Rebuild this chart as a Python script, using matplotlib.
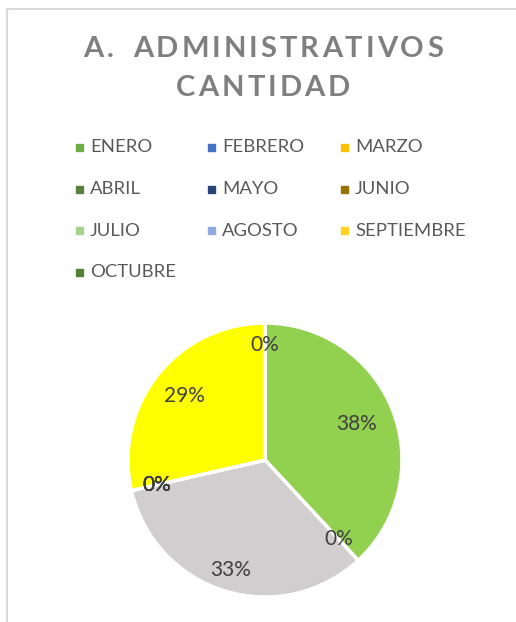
import numpy as np
import matplotlib
matplotlib.use("Agg")
import matplotlib.pyplot as plt
from matplotlib.patches import Rectangle
from matplotlib.lines import Line2D

W, H, DPI = 516, 622, 100

# data
meses = ["ENERO", "FEBRERO", "MARZO", "ABRIL", "MAYO", "JUNIO",
         "JULIO", "AGOSTO", "SEPTIEMBRE", "OCTUBRE"]
cantidad = [8, 0, 7, 0, 0, 0, 0, 0, 6, 0]
colores_leyenda = ["#70AD47", "#4472C4", "#FFC000", "#5B7F3C", "#264478",
                   "#997300", "#A9D18E", "#8FAADC", "#FFD320", "#548235"]
colores_pie = ["#92D050", "#4472C4", "#D0CECE", "#5B7F3C", "#264478",
               "#997300", "#A9D18E", "#8FAADC", "#FFFF00", "#548235"]
# distancia de cada etiqueta al centro (fraccion del radio)
dist_etiqueta = [0.72, 0.79, 0.84, 0.81, 0.81, 0.81, 0.81, 0.81, 0.75, 0.84]

FONT = "Lato"
plt.rcParams["font.family"] = [FONT, "DejaVu Sans"]

fig = plt.figure(figsize=(W / DPI, H / DPI), dpi=DPI)
fig.patch.set_facecolor("white")

# borde del area del grafico (solo se ven izquierda y arriba)
fig.add_artist(Line2D([7 / W, 7 / W], [0, 1 - 9 / H], color="#D9D9D9", lw=1.5))
fig.add_artist(Line2D([7 / W, 1], [1 - 9 / H, 1 - 9 / H], color="#D9D9D9", lw=1.5))

# titulo con espaciado entre letras
renderer = fig.canvas.get_renderer()


def texto_espaciado(s, cx, cy, size, tracking):
    parts = []
    for ch in s:
        t = fig.text(0, 0, ch, fontsize=size, fontweight="bold", color="#7F7F7F",
                     va="center", ha="left", transform=None)
        w = t.get_window_extent(renderer).width if ch != " " else size * 0.25
        parts.append((t, w))
    total = sum(w for _, w in parts) + tracking * (len(parts) - 1)
    x = cx - total / 2
    for t, w in parts:
        t.set_position((x, H - cy))
        x += w + tracking


texto_espaciado("A.  ADMINISTRATIVOS", 263, 49, 21, 3.0)
texto_espaciado("CANTIDAD", 263, 88, 21, 3.0)

# leyenda manual 3 columnas
col_x = [76, 208, 341]
row_y = [147, 189, 231, 272]
for i, (m, c) in enumerate(zip(meses, colores_leyenda)):
    r, k = divmod(i, 3)
    x, y = col_x[k], row_y[r]
    fig.add_artist(Rectangle(((x) / W, (H - y - 3.5) / H), 7 / W, 7 / H,
                             transform=fig.transFigure, color=c))
    fig.text((x + 14) / W, (H - y) / H, m, fontsize=13.3, color="#595959",
             va="center", ha="left")

# pastel
cx, cy, R = 265, 460, 137
ax = fig.add_axes([(cx - R) / W, (H - cy - R) / H, 2 * R / W, 2 * R / H])
wedges, _ = ax.pie(cantidad, colors=colores_pie, startangle=90, counterclock=False,
                   radius=1, wedgeprops=dict(edgecolor="white", linewidth=2.5))
total = sum(cantidad)
for w, v, d in zip(wedges, cantidad, dist_etiqueta):
    ang = np.deg2rad((w.theta1 + w.theta2) / 2)
    ax.text(d * np.cos(ang), d * np.sin(ang), f"{round(100 * v / total)}%",
            ha="center", va="center", fontsize=15, color="#404040")
ax.set_xlim(-1, 1)
ax.set_ylim(-1, 1)
ax.set_aspect("equal")
ax.axis("off")

fig.savefig("out.png", dpi=DPI, facecolor="white")
